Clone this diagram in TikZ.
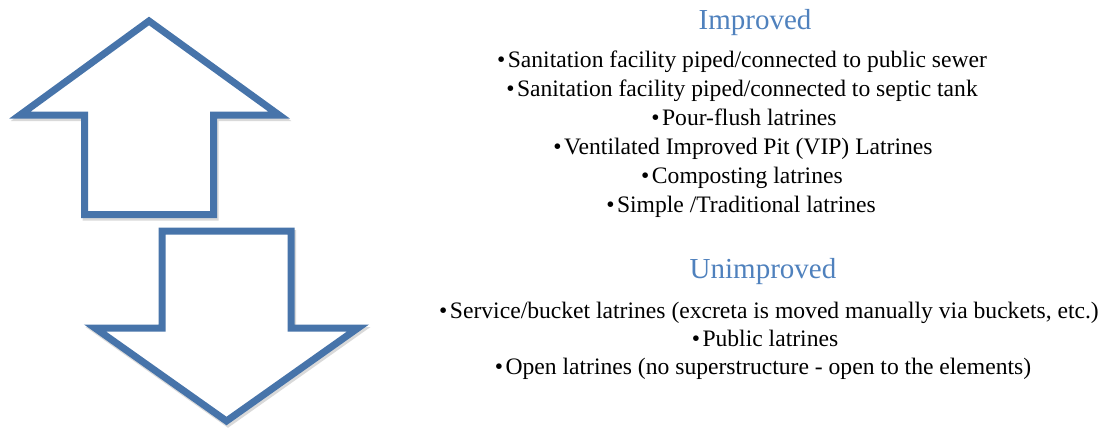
\documentclass[tikz,border=0pt]{standalone}
\usepackage{fontspec}
\setmainfont{Liberation Serif}
\definecolor{arrowblue}{RGB}{71,116,170}
\definecolor{titleblue}{RGB}{79,129,189}
\begin{document}
\begin{tikzpicture}[x=1pt,y=-1pt,
  arrowline/.style={draw=arrowblue,line width=7pt,line join=miter,fill=white},
  shadowline/.style={draw=black,opacity=0.15,line width=7pt,line join=miter},
  title/.style={font=\fontsize{29}{32}\selectfont,text=titleblue,inner sep=0pt,text height=20pt,text depth=6pt},
  item/.style={font=\fontsize{23.6}{27}\selectfont,text=black,inner sep=0pt,text height=16pt,text depth=5pt}]
\useasboundingbox (0,0) rectangle (1101,431);
% shadows
\draw[shadowline,shift={(1.5,2.5)}] (149,21) -- (279,115) -- (213.5,115) -- (213.5,214.5) -- (84.5,214.5) -- (84.5,115) -- (20,115) -- cycle;
\draw[shadowline,shift={(1.5,2.5)}] (226.5,421) -- (358,328) -- (291,328) -- (291,231) -- (162,231) -- (162,328) -- (95,328) -- cycle;
% arrows
\draw[arrowline] (149,21) -- (279,115) -- (213.5,115) -- (213.5,214.5) -- (84.5,214.5) -- (84.5,115) -- (20,115) -- cycle;
\draw[arrowline] (226.5,421) -- (358,328) -- (291,328) -- (291,231) -- (162,231) -- (162,328) -- (95,328) -- cycle;
% texts
\newcommand{\bul}{•\hspace{2.5pt}}
\node[title] (t1) at (755,22) {Improved};
\node[item] (i1) at (742,62) {\bul Sanitation facility piped/connected to public sewer};
\node[item] (i2) at (742,91) {\bul Sanitation facility piped/connected to septic tank};
\node[item] (i3) at (744,120) {\bul Pour-flush latrines};
\node[item] (i4) at (743,149) {\bul Ventilated Improved Pit (VIP) Latrines};
\node[item] (i5) at (742,178) {\bul Composting latrines};
\node[item] (i6) at (741,207) {\bul Simple /Traditional latrines};
\node[title] (t2) at (763,271) {Unimproved};
\node[item] (u1) at (769,313) {\bul Service/bucket latrines (excreta is moved manually via buckets, etc.)};
\node[item] (u2) at (765,341) {\bul Public latrines};
\node[item] (u3) at (763,369) {\bul Open latrines (no superstructure - open to the elements)};
\end{tikzpicture}
\end{document}
